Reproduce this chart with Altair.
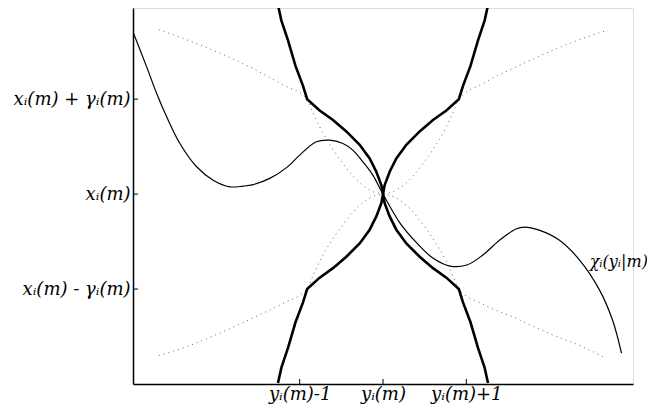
import json
import altair as alt
import pandas as pd

# ---- data (x in units of y_i(m) offset, y in units of gamma_i(m)) ----
X_TICKS = [-1, 0, 1]
X_LABELS = ["yᵢ(m)-1", "yᵢ(m)", "yᵢ(m)+1"]
Y_TICKS = [-1, 0, 1]
Y_LABELS = ["xᵢ(m) - γᵢ(m)", "xᵢ(m)", "xᵢ(m) + γᵢ(m)"]

# thin curve chi_i(y_i|m)
CHI_X = [-3.0, -2.836, -2.716, -2.596, -2.437, -2.237, -2.038, -1.838, -1.678, -1.557, -1.353, -1.150,
         -1.0, -0.8, -0.641, -0.481, -0.362, -0.242, -0.122, 0.0, 0.204, 0.407,
         0.599, 0.802, 1.006, 1.198, 1.401, 1.595, 1.695, 1.874, 2.114, 2.359, 2.599, 2.754, 2.862]
CHI_Y = [1.708, 1.34, 1.06, 0.814, 0.533, 0.288, 0.147, 0.077, 0.084, 0.100, 0.168, 0.284,
         0.411, 0.551, 0.568, 0.533, 0.463, 0.34, 0.2, 0.0, -0.305, -0.516,
         -0.674, -0.758, -0.747, -0.642, -0.484, -0.368, -0.347, -0.379, -0.484, -0.695, -1.011, -1.326, -1.674]

# thick curves (left ")" and right "(" touching at the centre)
THICK_L_X = [-1.26, -1.22, -1.14, -1.05, -0.96, -0.91, -0.76, -0.60, -0.44, -0.28, -0.16, -0.08, -0.02, 0.0,
             -0.02, -0.08, -0.16, -0.28, -0.44, -0.60, -0.76, -0.91, -0.96, -1.05, -1.14, -1.22, -1.26]
THICK_L_Y = [1.99, 1.83, 1.62, 1.35, 1.14, 1.0, 0.88, 0.78, 0.66, 0.52, 0.375, 0.235, 0.095, 0.0,
             -0.095, -0.235, -0.375, -0.52, -0.66, -0.78, -0.88, -1.0, -1.14, -1.35, -1.62, -1.83, -1.99]
THICK_R_X = [1.26, 1.22, 1.14, 1.05, 0.96, 0.91, 0.76, 0.60, 0.44, 0.28, 0.16, 0.08, 0.02, 0.0,
             0.02, 0.08, 0.16, 0.28, 0.44, 0.60, 0.76, 0.91, 0.96, 1.05, 1.14, 1.22, 1.26]
THICK_R_Y = [1.99, 1.83, 1.62, 1.35, 1.14, 1.0, 0.88, 0.78, 0.66, 0.52, 0.375, 0.235, 0.095, 0.0,
             -0.095, -0.235, -0.375, -0.52, -0.66, -0.78, -0.88, -1.0, -1.14, -1.35, -1.62, -1.83, -1.99]

# dotted curves
DOT_A_X = [-2.69, -2.4, -2.0, -1.6, -1.2, -0.91, -0.85, -0.76, -0.68, -0.60, -0.48, -0.36, -0.24, -0.12, 0.0,
           0.12, 0.24, 0.36, 0.48, 0.60, 0.68, 0.76, 0.85, 0.91, 1.2, 1.6, 2.0, 2.4, 2.68]
DOT_A_Y = [1.73, 1.64, 1.50, 1.34, 1.15, 1.0, 0.88, 0.71, 0.58, 0.47, 0.32, 0.19, 0.09, 0.025, 0.0,
           -0.025, -0.09, -0.19, -0.32, -0.47, -0.58, -0.71, -0.88, -1.0, -1.16, -1.31, -1.47, -1.61, -1.73]
DOT_B_X = [-2.69, -2.4, -2.0, -1.6, -1.2, -0.91, -0.85, -0.76, -0.68, -0.60, -0.48, -0.36, -0.24, -0.12, 0.0,
           0.12, 0.24, 0.36, 0.48, 0.60, 0.68, 0.76, 0.85, 0.91, 1.2, 1.6, 2.0, 2.4, 2.67]
DOT_B_Y = [-1.70, -1.62, -1.48, -1.32, -1.15, -1.0, -0.88, -0.71, -0.58, -0.47, -0.32, -0.19, -0.09, -0.025, 0.0,
           0.025, 0.09, 0.19, 0.32, 0.47, 0.58, 0.71, 0.88, 1.0, 1.165, 1.34, 1.50, 1.64, 1.72]

LABEL_TEXT = ["χᵢ(yᵢ|m)"]
LABEL_X = [2.48]
LABEL_Y = [-0.77]


def frame(xs, ys, name):
    return pd.DataFrame({"x": xs, "y": ys, "curve": name, "order": list(range(len(xs)))})


thin_df = frame(CHI_X, CHI_Y, "chi")
thick_df = pd.concat([frame(THICK_L_X, THICK_L_Y, "L"), frame(THICK_R_X, THICK_R_Y, "R")])
dot_df = pd.concat([frame(DOT_A_X, DOT_A_Y, "A"), frame(DOT_B_X, DOT_B_Y, "B")])
lab_df = pd.DataFrame({"x": LABEL_X, "y": LABEL_Y, "t": LABEL_TEXT})
xt_df = pd.DataFrame({"v": X_TICKS})
yt_df = pd.DataFrame({"v": Y_TICKS})

FONT = "DejaVu Serif"
FS = 18

x_label_expr = f"{json.dumps(X_LABELS, ensure_ascii=False)}[indexof({json.dumps(X_TICKS)}, datum.value)]"
y_label_expr = f"{json.dumps(Y_LABELS, ensure_ascii=False)}[indexof({json.dumps(Y_TICKS)}, datum.value)]"

xscale = alt.Scale(domain=[-3, 3], nice=False, zero=False)
yscale = alt.Scale(domain=[-2.0, 1.96], nice=False, zero=False)

x_axis = alt.Axis(values=X_TICKS, labelExpr=x_label_expr, ticks=False, tickSize=0, grid=False,
                  domainColor="black", domainWidth=1.5, labelFont=FONT, labelFontSize=FS,
                  labelFontStyle="italic", labelColor="black", labelPadding=1, title=None)
y_axis = alt.Axis(values=Y_TICKS, labelExpr=y_label_expr, ticks=False, tickSize=0, grid=False,
                  domainColor="black", domainWidth=1.5, labelFont=FONT, labelFontSize=FS,
                  labelFontStyle="italic", labelColor="black", labelPadding=3, title=None)

base_x = alt.X("x:Q", scale=xscale, axis=x_axis)
base_y = alt.Y("y:Q", scale=yscale, axis=y_axis)

dotted = alt.Chart(dot_df).mark_line(color="#666", strokeWidth=1, strokeDash=[1, 4],
                                     interpolate="monotone", clip=True).encode(
    x=base_x, y=base_y, detail="curve:N", order="order:Q")
thick = alt.Chart(thick_df).mark_line(color="black", strokeWidth=2.6, clip=True).encode(
    x=base_x, y=base_y, detail="curve:N", order="order:Q")
thin = alt.Chart(thin_df).mark_line(color="black", strokeWidth=1.2, interpolate="catmull-rom",
                                    clip=True).encode(x=base_x, y=base_y, order="order:Q")
label = alt.Chart(lab_df).mark_text(font=FONT, fontSize=16, fontStyle="italic", align="left",
                                    baseline="alphabetic", color="black").encode(
    x=alt.X("x:Q", scale=xscale), y=alt.Y("y:Q", scale=yscale), text="t:N")
xticks = alt.Chart(xt_df).mark_rule(color="black", strokeWidth=1).encode(
    x=alt.X("v:Q", scale=xscale), y=alt.value(376), y2=alt.value(371))
yticks = alt.Chart(yt_df).mark_rule(color="black", strokeWidth=1).encode(
    y=alt.Y("v:Q", scale=yscale), x=alt.value(0), x2=alt.value(5))

chart = alt.layer(dotted, thick, thin, xticks, yticks, label).properties(
    width=500, height=376,
    autosize=alt.AutoSizeParams(type="none"),
    padding={"left": 125, "top": 0, "right": 14, "bottom": 24},
).configure_view(stroke=None).configure(background="white")

chart.save("out.html", embed_options={"renderer": "svg", "actions": False})
